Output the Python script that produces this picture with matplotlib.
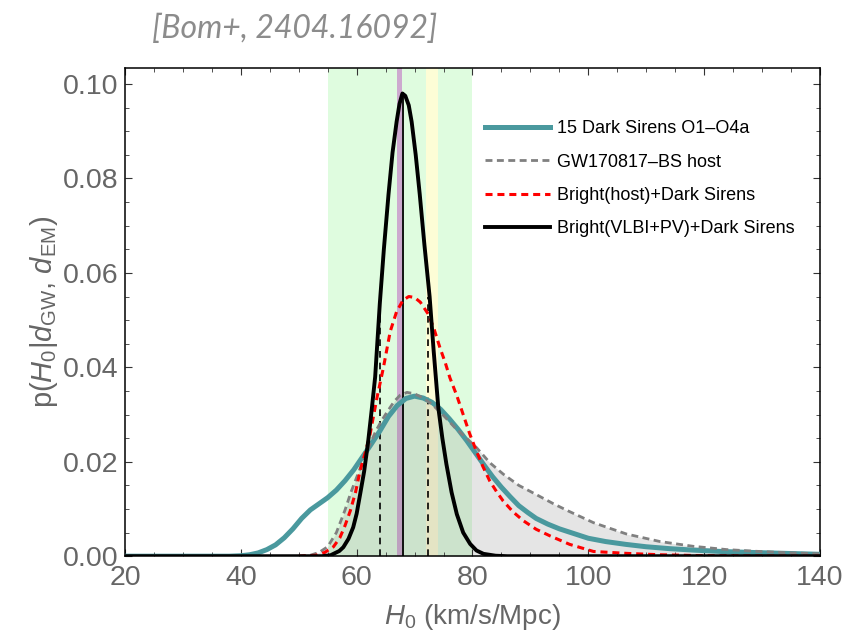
import matplotlib
matplotlib.use("Agg")
import matplotlib.pyplot as plt
from matplotlib.ticker import MultipleLocator

# H0 posteriors
teal_h = [20, 38, 40, 41.5, 43, 44.5, 46, 47.5, 49, 50.5, 52, 53.5, 55, 56.5, 58, 59.5, 61, 62.5, 64,
          65.5, 67, 68.5, 70, 71.5, 73, 74.5, 76, 77.5, 79, 80.5, 82, 83.5, 85, 86.5, 88, 89.5, 91,
          93, 95, 97.5, 100, 103, 106.5, 110, 114, 118, 123, 128, 134, 140]
teal_p = [0, 0, 0.0001, 0.0003, 0.0007, 0.0014, 0.0024, 0.0039, 0.0058, 0.008, 0.0098, 0.0111,
          0.0124, 0.014, 0.016, 0.0183, 0.021, 0.0237, 0.0265, 0.0296, 0.0319, 0.0334, 0.0339, 0.0335,
          0.0326, 0.0311, 0.0291, 0.0269, 0.0245, 0.0219, 0.0193, 0.0168, 0.0146, 0.0126, 0.0107,
          0.0093, 0.008, 0.0068, 0.0058, 0.0048, 0.0038, 0.0031, 0.0025, 0.002, 0.0016, 0.0013, 0.001,
          0.0008, 0.0006, 0.0004]

gray_h = [50, 52, 53.5, 55, 56.5, 58, 59, 60, 61.2, 62.3, 63.3, 64.3, 65.5, 66.5, 67.5, 68.7, 70, 71.5,
          73, 75, 77, 78.8, 80.7, 83, 85.3, 88, 91.1, 94, 96.5, 100.9, 106.6, 112.4, 118.1, 123.9,
          129.6, 135, 140]
gray_p = [0, 0.0002, 0.0008, 0.002, 0.005, 0.0098, 0.0135, 0.0167, 0.0205, 0.0237, 0.0265, 0.0287,
          0.031, 0.0328, 0.0341, 0.0347, 0.0344, 0.0335, 0.0322, 0.0298, 0.0272, 0.0252, 0.023, 0.0198,
          0.0174, 0.015, 0.013, 0.0111, 0.0096, 0.0071, 0.0047, 0.0031, 0.0021, 0.0014, 0.001, 0.0007,
          0.0005]

red_h = [50, 53, 54.5, 56, 57.1, 58, 58.9, 59.8, 60.6, 61.5, 62.3, 63.5, 64.6, 65.8, 66.9, 68, 69, 70,
         71, 72.4, 73.4, 74.4, 75.3, 76.1, 77.3, 78.4, 79.5, 80.7, 81.8, 83, 84.2, 85.3, 87, 88.8, 91,
         93.4, 96.8, 100.9, 106.6, 112.4, 120, 140]
red_p = [0, 0.0002, 0.0008, 0.002, 0.0039, 0.0065, 0.0096, 0.0135, 0.0181, 0.022, 0.0257, 0.0335,
         0.0398, 0.0476, 0.0518, 0.0542, 0.055, 0.0548, 0.0538, 0.0512, 0.048, 0.0441, 0.041, 0.0378,
         0.034, 0.030, 0.026, 0.0222, 0.019, 0.0159, 0.0136, 0.0117, 0.0094, 0.0075, 0.0057, 0.0043,
         0.0025, 0.001, 0.0006, 0.0003, 0.0001, 0]

black_h = [20, 54, 55.5, 57, 57.7, 58.6, 59.4, 60, 60.6, 61.3, 62, 62.6, 63.2, 64, 64.7, 65.5, 66.2,
           66.9, 67.4, 67.9, 68.4, 69, 69.5, 70.2, 70.9, 71.7, 72.6, 73.3, 74.1, 74.8, 75.5, 76.4,
           77.3, 78.4, 79.6, 80.7, 81.9, 84, 86, 140]
black_p = [0, 0, 0.0002, 0.0011, 0.0019, 0.0037, 0.0061, 0.009, 0.0131, 0.018, 0.0244, 0.031, 0.038,
           0.0535, 0.065, 0.0766, 0.0855, 0.092, 0.0958, 0.098, 0.0975, 0.0955, 0.092, 0.085, 0.0766,
           0.066, 0.055, 0.0435, 0.0315, 0.025, 0.0195, 0.0135, 0.0089, 0.005, 0.0026, 0.0012, 0.0005,
           0.0001, 0, 0]

ci_h = [64.1, 72.4]
ci_top = [0.0548, 0.0548]
median_h = 68.0
median_top = 0.098

band_green = (55, 80)
band_planck = (66.9, 67.9)
band_shoes = (72.0, 74.1)

labels = ["15 Dark Sirens O1\u2013O4a", "GW170817\u2013BS host",
          "Bright(host)+Dark Sirens", "Bright(VLBI+PV)+Dark Sirens"]

plt.rcParams['font.family'] = ['Liberation Sans', 'DejaVu Sans']
plt.rcParams['mathtext.fontset'] = 'custom'
plt.rcParams['mathtext.rm'] = 'Liberation Sans'
plt.rcParams['mathtext.it'] = 'Liberation Sans:italic'

fig = plt.figure(figsize=(8.47, 6.43), dpi=100)
ax = fig.add_axes([0.1476, 0.135, 0.8204, 0.76])

ax.axvspan(*band_green, color='#dffcdf', lw=0, zorder=0)
ax.axvspan(*band_shoes, color='#fdfdd6', lw=0, zorder=0.5)
ax.axvspan(*band_planck, color='#cda9cf', lw=0, zorder=0.5)

ax.fill_between(gray_h, gray_p, color='gray', alpha=0.2, lw=0, zorder=1)

ax.plot(teal_h, teal_p, color='#4a999e', lw=3.6, label=labels[0], zorder=3,
        solid_joinstyle='round')
ax.plot(gray_h, gray_p, color='#808080', lw=2.0, dashes=(2.5, 1.6), label=labels[1], zorder=3)
ax.plot(red_h, red_p, color='red', lw=2.2, dashes=(2.3, 1.6), label=labels[2], zorder=4)
ax.plot(black_h, black_p, color='black', lw=2.8, label=labels[3], zorder=5)

for h, top in zip(ci_h, ci_top):
    ax.plot([h, h], [0, top], color='black', lw=1.2, dashes=(4, 3), zorder=2)
ax.plot([median_h, median_h], [0, median_top], color='black', lw=1.3, zorder=2)

ax.set_xlim(20, 140)
ax.set_ylim(0, 0.1035)
ax.xaxis.set_major_locator(MultipleLocator(20))
ax.xaxis.set_minor_locator(MultipleLocator(5))
ax.yaxis.set_major_locator(MultipleLocator(0.02))
ax.yaxis.set_minor_locator(MultipleLocator(0.005))
ax.yaxis.set_major_formatter(plt.FormatStrFormatter('%.2f'))
ax.tick_params(which='both', direction='in', top=True, right=True, colors='#333333',
               labelcolor='#666666', labelsize=20.5)
ax.tick_params(which='major', length=5, width=0.8)
ax.tick_params(which='minor', length=3, width=0.6)
ax.tick_params(axis='x', pad=6)
ax.tick_params(axis='y', pad=5)
for s in ax.spines.values():
    s.set_linewidth(1.1)

ax.set_xlabel(r'$H_0$ (km/s/Mpc)', fontsize=20, color='#666666', labelpad=8)
ax.set_ylabel(r'p($H_0$|$d_{\rm GW}$, $d_{\rm EM}$)', fontsize=21, color='#666666', labelpad=2)

leg = ax.legend(loc='upper left', bbox_to_anchor=(0.494, 0.925), frameon=False, fontsize=13,
                handlelength=3.6, handletextpad=0.4, labelspacing=0.9)

fig.text(0.348, 0.955, '[Bom+, 2404.16092]', family='Lato', style='italic', fontsize=23,
         color='#8c8c8c', ha='center', va='center')

fig.savefig('out.png', dpi=100)
